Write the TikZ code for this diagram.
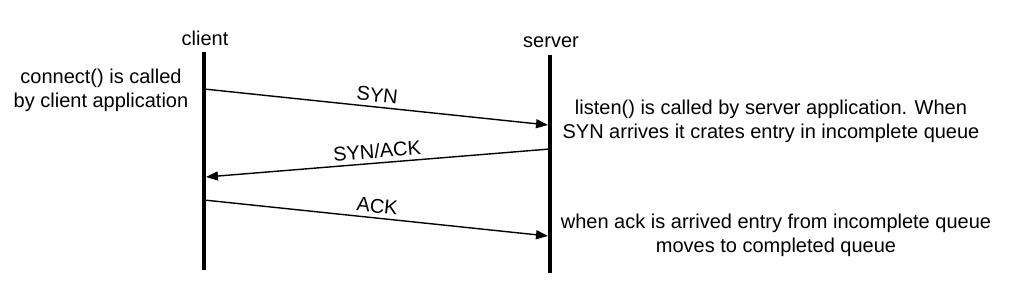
\documentclass[tikz,border=0pt]{standalone}
\usepackage{fontspec}
\setmainfont{Liberation Sans}
\usetikzlibrary{arrows.meta,positioning}

\begin{document}
\begin{tikzpicture}[x=1pt,y=-1pt,
  font=\fontsize{20}{24}\selectfont,
  life/.style={line width=4pt},
  msg/.style={-{Triangle[length=12pt,width=9pt]},line width=1.4pt},
  lbl/.style={midway,sloped,above=2pt,inner sep=2pt},
  note/.style={align=center,inner sep=0pt}
]
\useasboundingbox (0,0) rectangle (1012,296);
% lifelines
\coordinate (ctop) at (204,52);
\coordinate (cbot) at (204,270);
\coordinate (stop) at (550,55);
\coordinate (sbot) at (550,273);
\node (client) at (205,38) {client};
\node (server) at (551,42) {server};
\draw[life] (ctop) -- (cbot);
\draw[life] (stop) -- (sbot);
% message ends
\coordinate (syn0) at (204,89);
\coordinate (syn1) at (548,125);
\coordinate (sa0) at (550,149);
\coordinate (sa1) at (206,177);
\coordinate (ack0) at (204,200);
\coordinate (ack1) at (548,236);
\draw[msg] (syn0) -- (syn1) node[lbl] {SYN};
\draw[msg] (sa0) -- (sa1) node[lbl] {SYN/ACK};
\draw[msg] (ack0) -- (ack1) node[lbl] {ACK};
% notes
\node[note] (conn) at (101,90) {connect() is called\\by client application};
\node[note] (listen) at (771,121) {listen() is called by server application. When\\SYN arrives it crates entry in incomplete queue};
\node[note] (done) at (776,235) {when ack is arrived entry from incomplete queue\\moves to completed queue};
\end{tikzpicture}
\end{document}
